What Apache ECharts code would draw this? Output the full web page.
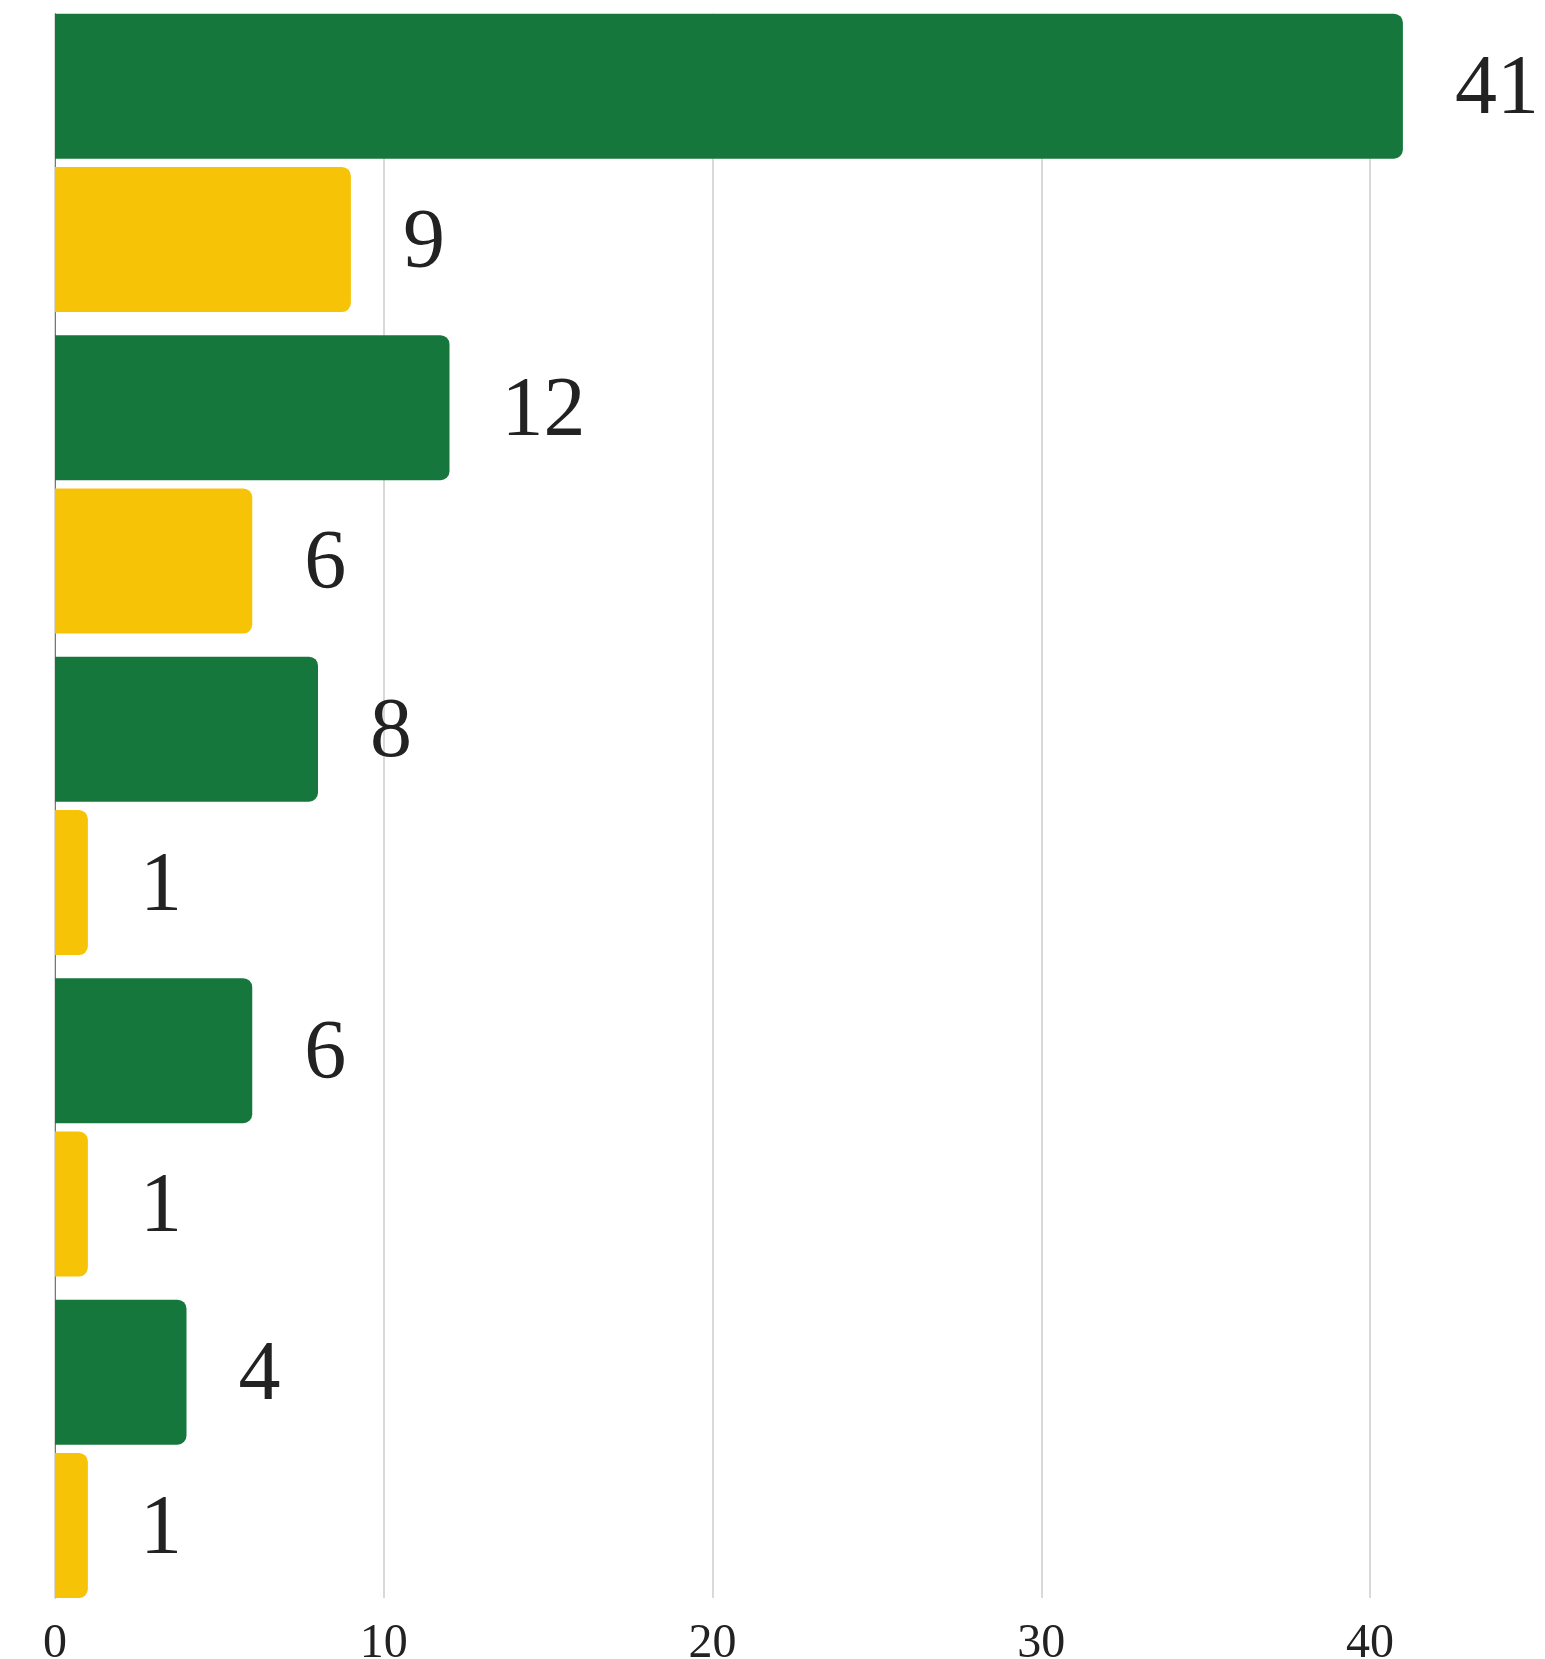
<!DOCTYPE html>
<html>
<head>
<meta charset="utf-8">
<script src="https://cdn.jsdelivr.net/npm/echarts@6/dist/echarts.min.js"></script>
<style>
html,body{margin:0;padding:0;background:#fff;}
#chart{width:1545px;height:1659px;}
</style>
</head>
<body>
<div id="chart"></div>
<script>
const categories = ['A', 'B', 'C', 'D', 'E'];
const greenValues = [41, 12, 8, 6, 4];
const yellowValues = [9, 6, 1, 1, 1];
const xTicks = [0, 10, 20, 30, 40];

const GREEN = '#16773d';
const YELLOW = '#f7c307';
const FONT = 'Liberation Serif';

const chart = echarts.init(document.getElementById('chart'), null, {renderer: 'canvas'});

const labelStyle = {
  show: true,
  position: 'right',
  distance: 52,
  offset: [0, 5],
  fontFamily: FONT,
  fontSize: 84,
  color: '#222222'
};

chart.setOption({
  animation: false,
  backgroundColor: '#ffffff',
  grid: [
    {left: 55, right: 10.6, top: 2.1, bottom: 49.4, containLabel: false, outerBoundsMode: 'none'},
    {left: 55, right: 10.6, top: 13.7, bottom: 61, containLabel: false, outerBoundsMode: 'none'}
  ],
  xAxis: [
    {type: 'value', gridIndex: 0, min: 0, max: 45, show: false},
    {
      type: 'value', gridIndex: 1, min: 0, max: 45, interval: 10,
      axisLine: {show: false},
      axisTick: {show: false},
      splitLine: {show: true, showMaxLine: false, lineStyle: {color: '#cccccc', width: 1.5}},
      axisLabel: {
        show: true, showMaxLabel: false, margin: 22,
        fontFamily: FONT, fontSize: 48, color: '#222222',
        formatter: function (v) { return xTicks.indexOf(v) >= 0 ? String(v) : ''; }
      }
    }
  ],
  yAxis: [
    {type: 'category', gridIndex: 0, data: categories, inverse: true, show: false},
    {
      type: 'category', gridIndex: 1, data: categories, inverse: true,
      axisLine: {show: true, lineStyle: {color: '#777777', width: 1}},
      axisTick: {show: false},
      axisLabel: {show: false},
      splitLine: {show: false}
    }
  ],
  series: [
    {
      type: 'bar', xAxisIndex: 0, yAxisIndex: 0, data: greenValues,
      barCategoryGap: '7.2%', barGap: '5.7%',
      itemStyle: {color: GREEN, borderRadius: [0, 9, 9, 0]},
      label: labelStyle
    },
    {
      type: 'bar', xAxisIndex: 0, yAxisIndex: 0, data: yellowValues,
      barCategoryGap: '7.2%', barGap: '5.7%',
      itemStyle: {color: YELLOW, borderRadius: [0, 9, 9, 0]},
      label: labelStyle
    }
  ]
});
</script>
</body>
</html>
